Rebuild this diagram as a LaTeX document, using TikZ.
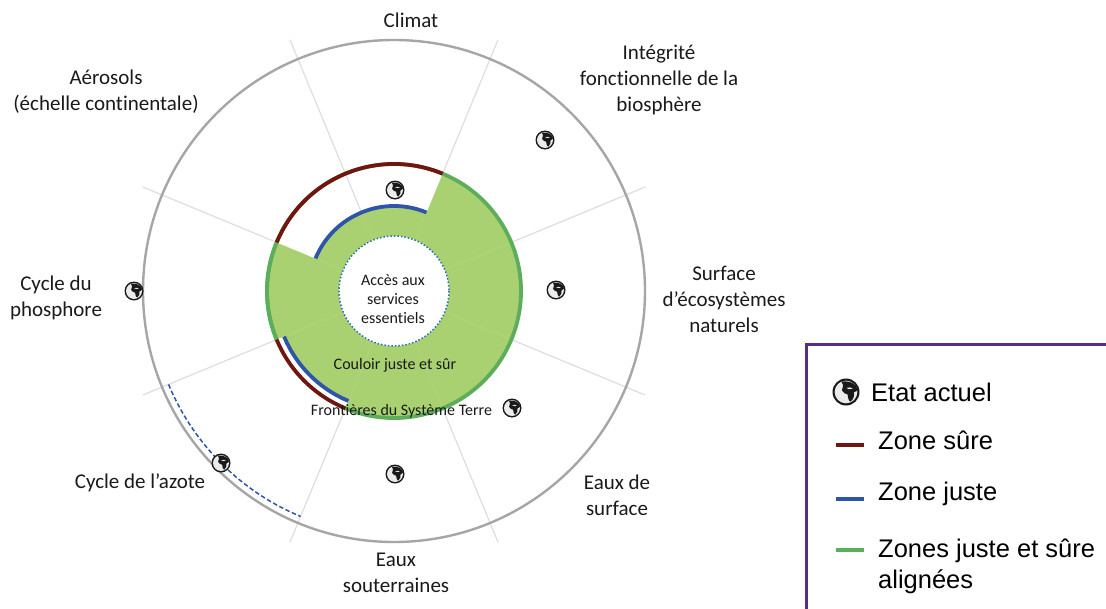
\documentclass[tikz,border=0pt]{standalone}
\usepackage{fontspec}
\setmainfont[Ligatures=NoCommon]{Carlito}
\newfontfamily\legendfont{Liberation Sans}
\usetikzlibrary{calc}
\definecolor{ringgrey}{HTML}{A6A6A6}
\definecolor{spokegrey}{HTML}{DEDEDE}
\definecolor{safered}{HTML}{701510}
\definecolor{justblue}{HTML}{2F55A8}
\definecolor{aligngreen}{HTML}{5DAE5B}
\definecolor{fillgreen}{HTML}{A9D171}
\definecolor{boxpurple}{HTML}{5B2C86}
\definecolor{txt}{HTML}{1A1A1A}
\tikzset{
  lab/.style={align=center,font=\fontsize{21}{26}\selectfont,text=txt,inner sep=0pt},
  small/.style={align=center,font=\fontsize{16}{19.2}\selectfont,text=txt,inner sep=0pt},
  leg/.style={anchor=west,align=left,font=\legendfont\fontsize{25.5}{30.5}\selectfont,text=black,inner sep=0pt},
  spoke/.style={spokegrey,line width=1.2pt},
  arcline/.style={line width=3.8pt},
  keyline/.style={line width=3.2pt},
  pics/globe/.style={code={
    \fill[black!90] (0,0) circle (1);
    \fill[white!92!black] (0,0) circle (.84);
    \fill[black!90] (-.35,.78) .. controls (-.1,.45) and (-.3,.3) .. (-.3,.12)
      .. controls (-.25,-.12) and (0,-.1) .. (.12,-.18)
      .. controls (.15,-.45) and (.2,-.72) .. (.35,-.7)
      .. controls (.6,-.5) and (.62,-.2) .. (.58,-.02)
      .. controls (.75,.0) and (.84,.1) .. (.84,.2)
      .. controls (.75,.55) and (.4,.85) .. (-.35,.78) -- cycle;
    \fill[white!92!black] (.02,.3) .. controls (.2,.38) and (.42,.34) .. (.5,.26) .. controls (.3,.18) and (.15,.18) .. (.02,.3) -- cycle;
  }},
}
\begin{document}
\begin{tikzpicture}[x=1pt,y=-1pt]
\useasboundingbox (0,0) rectangle (1106,608);
\fill[white] (0,0) rectangle (1106,608);
\coordinate (C) at (394,291);
% spokes
\foreach \a in {22.5,67.5,...,360}{
  \draw[spoke] ($(C)+({55*cos(\a)},{-55*sin(\a)})$) -- ($(C)+({272*cos(\a)},{-272*sin(\a)})$);
}
% outer ring
\draw[ringgrey,line width=2.4pt] (C) circle (251);
% green corridor
\fill[fillgreen,even odd rule] (C) circle (127) (C) circle (55);
\foreach \a in {22.5,67.5,...,360}{
  \draw[fillgreen!93!white,line width=1pt] ($(C)+({55*cos(\a)},{-55*sin(\a)})$) -- ($(C)+({127*cos(\a)},{-127*sin(\a)})$);
}
\fill[white] ($(C)+({127*cos(67.5)},{-127*sin(67.5)})$)
  arc[start angle=-67.5,end angle=-157.5,radius=127]
  -- ($(C)+({85*cos(157.5)},{-85*sin(157.5)})$)
  arc[start angle=-157.5,end angle=-67.5,radius=85] -- cycle;
\fill[white] ($(C)+({127*cos(202.5)},{-127*sin(202.5)})$)
  arc[start angle=-202.5,end angle=-247.5,radius=127]
  -- ($(C)+({119*cos(247.5)},{-119*sin(247.5)})$)
  arc[start angle=-247.5,end angle=-202.5,radius=119] -- cycle;
\draw[spoke] ($(C)+({85*cos(112.5)},{-85*sin(112.5)})$) -- ($(C)+({127*cos(112.5)},{-127*sin(112.5)})$);
% green boundary
\draw[aligngreen,arcline] ($(C)+({127*cos(67.5)},{-127*sin(67.5)})$) arc[start angle=-67.5,end angle=157.5-360,radius=127];
\draw[aligngreen,arcline] ($(C)+({127*cos(202.5)},{-127*sin(202.5)})$) arc[start angle=-202.5,end angle=-157.5,radius=127];
\draw[aligngreen,arcline] ($(C)+({127*cos(247.5)},{-127*sin(247.5)})$) arc[start angle=-247.5,end angle=-360-67.5,radius=127];
% safe / just arcs
\draw[safered,arcline] ($(C)+({127*cos(67.5)},{-127*sin(67.5)})$) arc[start angle=-67.5,end angle=-157.5,radius=127];
\draw[justblue,arcline] ($(C)+({85*cos(67.5)},{-85*sin(67.5)})$) arc[start angle=-67.5,end angle=-157.5,radius=85];
\draw[safered,arcline] ($(C)+({127*cos(202.5)},{-127*sin(202.5)})$) arc[start angle=-202.5,end angle=-247.5,radius=127];
\draw[justblue,arcline] ($(C)+({119*cos(202.5)},{-119*sin(202.5)})$) arc[start angle=-202.5,end angle=-247.5,radius=119];
% centre
\fill[white] (C) circle (55);
\draw[justblue!85!cyan,line width=1.5pt,dotted] (C) circle (55);
\draw[justblue,line width=1.5pt,dash pattern=on 4.5pt off 2.5pt] ($(C)+({244*cos(202.5)},{-244*sin(202.5)})$) arc[start angle=-202.5,end angle=-247.5,radius=244];
% globes
\foreach \x/\y in {545/140,395/190,556/290,134/291,512/408,395/474,221/463}{
  \pic[scale=9.5,yscale=-1] at (\x,\y) {globe};
}
% labels
\node[lab] (climat) at (411,20) {Climat};
\node[lab] (integ) at (659,80) {Intégrité\\fonctionnelle de la\\biosphère};
\node[lab] (surf) at (724,299) {Surface\\d’écosystèmes\\naturels};
\node[lab] (eauxs) at (617,495) {Eaux de\\surface};
\node[lab] (eauxo) at (396,572.5) {Eaux\\souterraines};
\node[lab] (azote) at (140,483) {Cycle de l’azote};
\node[lab] (phos) at (56,298) {Cycle du\\phosphore};
\node[lab] (aero) at (106,92) {Aérosols\\(échelle continentale)};
\node[small] (acces) at (393,299) {Accès aux\\services\\essentiels};
\node[small] (couloir) at (395,365) {Couloir juste et sûr};
\node[small] (front) at (401.5,411) {Frontières du Système Terre};
% legend
\draw[boxpurple,line width=3pt] (1110,344) -- (806,344) -- (806,612);
\pic[scale=13.5,yscale=-1] at (846,392) {globe};
\node[leg] (l1) at (871,392) {Etat actuel};
\coordinate (k2a) at (836,445); \coordinate (k2b) at (864,445);
\draw[safered,keyline] (k2a) -- (k2b);
\node[leg] (l2) at (878,440) {Zone sûre};
\coordinate (k3a) at (836,499); \coordinate (k3b) at (864,499);
\draw[justblue,keyline] (k3a) -- (k3b);
\node[leg] (l3) at (878,494) {Zone juste};
\coordinate (k4a) at (836,550); \coordinate (k4b) at (864,550);
\draw[aligngreen,keyline] (k4a) -- (k4b);
\node[leg] (l4) at (878,566.5) {Zones juste et sûre\\alignées};
\end{tikzpicture}
\end{document}
